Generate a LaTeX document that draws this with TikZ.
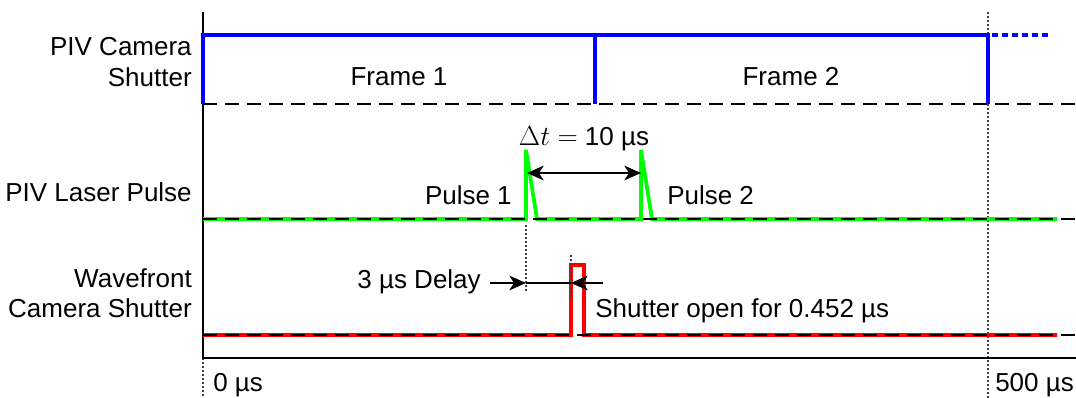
\documentclass[tikz,border=0pt]{standalone}
\usepackage{fontspec}
\setmainfont{Liberation Sans}
\usepackage{xcolor}
\usepackage{tikz}
\usetikzlibrary{arrows.meta, positioning, calc}
\tikzstyle{lbl} = [font=\fontsize{19.5}{23}\selectfont, inner sep=0pt]
\tikzstyle{axisline} = [line width=1.3pt, black]
\tikzstyle{base} = [line width=1.5pt, black, dash pattern=on 10.5pt off 6pt]
\tikzstyle{marker} = [line width=1.1pt, black!75, dash pattern=on 1.5pt off 1.5pt]
\tikzstyle{cam} = [line width=2.8pt, blue]
\tikzstyle{laser} = [line width=2.8pt, green]
\tikzstyle{wave} = [line width=2.6pt, red]
\tikzstyle{arrow} = [line width=1pt, -{Stealth[length=12.5pt, width=11pt, inset=3.5pt]}]
\tikzstyle{twoway} = [line width=1pt, {Stealth[length=12.5pt, width=11pt, inset=3.5pt]}-{Stealth[length=12.5pt, width=11pt, inset=3.5pt]}]

\begin{document}
\begin{tikzpicture}[x=0.75pt, y=-0.75pt]
\useasboundingbox (0,0) rectangle (1076,398);

    % row labels
\node[lbl, anchor=base east] (camA) at (192,56) {PIV Camera};
\node[lbl, anchor=base east] (camB) at (192,87) {Shutter};
\node[lbl, anchor=base east] (laserlbl) at (192,202) {PIV Laser Pulse};
\node[lbl, anchor=base east] (waveA) at (192,288) {Wavefront};
\node[lbl, anchor=base east] (waveB) at (192,318) {Camera Shutter};

    % time axis and markers
    \draw[marker] (203,358) -- (203,398);
    \draw[marker] (988,12) -- (988,398);
    \draw[axisline] (203,12) -- (203,358) -- (1076,358);

    % PIV camera shutter
    \draw[cam] (203,104) -- (203,35) -- (988,35) -- (988,104);
    \draw[cam] (595,35) -- (595,104);
    \draw[cam, dash pattern=on 4.5pt off 3pt] (992,35) -- (1052,35);
    \draw[base] (203,104) -- (1076,104);
\node[lbl, anchor=base] (frame1) at (399,86) {Frame 1};
\node[lbl, anchor=base] (frame2) at (791,86) {Frame 2};

    % PIV laser pulses
    \draw[laser] (203,219) -- (526,219) -- (526,150) -- (537,219) -- (641,219)
        -- (641,150) -- (652,219) -- (1057,219);
    \draw[base] (203,219) -- (1076,219);
\coordinate (dtL) at (527,173);
\coordinate (dtR) at (641,173);
    \draw[twoway] (dtL) -- (dtR);
\node[lbl, anchor=base] (dt) at (584,146) {$\Delta t=$ 10 µs};
\node[lbl, anchor=base east] (pulse1) at (512,205) {Pulse 1};
\node[lbl, anchor=base west] (pulse2) at (667,205) {Pulse 2};

    % wavefront camera shutter
    \draw[wave] (203,335) -- (571,335) -- (571,265) -- (584,265) -- (584,335) -- (1057,335);
    \draw[base] (203,335) -- (1076,335);
    \draw[marker] (526,225) -- (526,293);
    \draw[marker] (571,255) -- (571,300);
\coordinate (dlyS) at (490,283);
\coordinate (dlyA) at (526,283);
\coordinate (dlyB) at (571,283);
\coordinate (dlyE) at (603,283);
    \draw[arrow] (dlyS) -- (dlyA);
    \draw[line width=1pt] (dlyA) -- (dlyB);
    \draw[arrow] (dlyE) -- (dlyB);
\node[lbl, anchor=base east] (delay) at (481,289) {3 µs Delay};
\node[lbl, anchor=base west] (open) at (595,318) {Shutter open for 0.452 µs};

    % time labels
\node[lbl, anchor=base west] (t0) at (213,392) {0 µs};
\node[lbl, anchor=base west] (t1) at (995,392) {500 µs};
\end{tikzpicture}
\end{document}
